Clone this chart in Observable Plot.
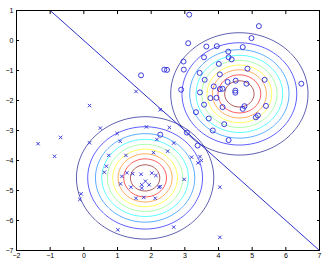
<!DOCTYPE html>
<html><head><meta charset="utf-8">
<script src="https://cdn.jsdelivr.net/npm/d3@7"></script>
<script src="https://cdn.jsdelivr.net/npm/@observablehq/plot@0.6"></script>
<style>body{margin:0;background:#fff}</style>
</head><body><div id="chart"></div>
<script>
const xTicks = [-2,-1,0,1,2,3,4,5,6,7];
const yTicks = [-7,-6,-5,-4,-3,-2,-1,0,1];

const circleX = [3.13,5.20,3.10,4.98,3.64,3.95,4.72,4.29,4.30,4.39,3.57,2.96,4.01,2.39,2.47,2.97,4.86,3.44,4.04,3.59,5.37,4.51,4.27,4.83,6.46,3.86,4.04,4.12,2.89,4.50,4.50,3.45,3.94,3.76,3.57,4.12,4.77,4.72,5.41,3.33,5.17,5.11,3.71,4.17,3.83,3.06,4.30,3.38,1.70,2.27];
const circleY = [0.86,0.48,-0.09,0.08,-0.20,-0.19,-0.22,-0.37,-0.56,-0.63,-0.56,-0.70,-0.78,-0.97,-0.98,-0.97,-0.94,-1.08,-1.13,-1.31,-1.31,-1.34,-1.38,-1.44,-1.44,-1.53,-1.62,-1.61,-1.64,-1.67,-1.74,-1.73,-1.91,-1.92,-2.14,-2.22,-2.19,-2.28,-2.18,-2.39,-2.50,-2.56,-2.60,-2.79,-3.00,-3.07,-3.32,-3.50,-1.16,-3.14];

const crossX = [0.17,1.55,2.27,0.49,1.86,0.99,2.54,-0.69,-1.36,0.17,1.08,2.17,-0.87,0.74,1.25,2.07,2.49,0.67,0.61,1.13,1.28,1.45,1.70,2.02,2.14,1.83,1.09,1.94,1.72,1.40,1.72,2.27,2.23,-0.08,-0.12,1.55,1.78,2.12,1.01,2.67,3.20,3.45,3.49,3.39,2.98,4.04,2.67,4.04];
const crossY = [-2.17,-1.70,-2.31,-2.92,-2.88,-3.10,-2.90,-3.23,-3.44,-3.41,-3.36,-3.30,-3.86,-3.83,-3.83,-3.74,-3.69,-4.19,-4.39,-4.53,-4.41,-4.44,-4.46,-4.42,-4.50,-4.69,-4.78,-4.81,-4.81,-4.89,-4.92,-4.87,-4.89,-5.11,-5.30,-5.26,-5.23,-5.26,-6.31,-3.42,-3.89,-3.87,-4.00,-4.08,-4.63,-4.89,-6.22,-6.56];

const meanCircle = [4.62, -1.78];
const meanCross = [1.82, -4.58];
const sigma = 0.95;
const levels = [0.1,0.2,0.3,0.4,0.5,0.6,0.7,0.8,0.9];
const levelColors = ["#000080","#0000ff","#0080ff","#00ffff","#80ff80","#ffff00","#ff8000","#ff0000","#800000"];

const boundaryX = [-1, 7];
const boundaryY = [1, -7];

const circles = circleX.map((x, i) => ({x, y: circleY[i]}));
const crosses = crossX.map((x, i) => ({x, y: crossY[i]}));
const boundary = boundaryX.map((x, i) => ({x, y: boundaryY[i]}));
const gauss = (m) => (x, y) => Math.exp(-((x - m[0]) ** 2 + (y - m[1]) ** 2) / (2 * sigma * sigma));

const ink = "#2a2ad8";
const chart = Plot.plot({
  width: 333, height: 264,
  marginLeft: 16, marginRight: 14, marginTop: 10, marginBottom: 14,
  style: {fontFamily: "Liberation Sans, Arial, sans-serif", fontSize: "7px", background: "#fff", color: "#000"},
  x: {domain: [-2, 7]},
  y: {domain: [-7, 1]},
  color: {type: "ordinal", domain: levels, range: levelColors},
  marks: [
    Plot.contour({value: gauss(meanCircle), x1: -2, x2: 7, y1: -7, y2: 1, pixelSize: 1, thresholds: levels, stroke: "value", fill: "none", strokeWidth: 0.9, strokeOpacity: 0.7, clip: true}),
    Plot.contour({value: gauss(meanCross), x1: -2, x2: 7, y1: -7, y2: 1, pixelSize: 1, thresholds: levels, stroke: "value", fill: "none", strokeWidth: 0.9, strokeOpacity: 0.7, clip: true}),
    Plot.line(boundary, {x: "x", y: "y", stroke: "#3030c8", strokeWidth: 1, clip: true}),
    Plot.dot(circles, {x: "x", y: "y", r: 2.5, stroke: ink, strokeWidth: 0.9, fill: "none"}),
    Plot.dot(crosses, {x: "x", y: "y", symbol: "times", r: 1.7, stroke: ink, strokeWidth: 0.9}),
    Plot.frame({stroke: "#000", strokeWidth: 1}),
    Plot.axisX(xTicks, {anchor: "bottom", tickSize: -3, fill: "none", label: null}),
    Plot.axisX(xTicks, {anchor: "top", tickSize: -3, fill: "none", label: null}),
    Plot.axisY(yTicks, {anchor: "left", tickSize: -3, fill: "none", label: null}),
    Plot.axisY(yTicks, {anchor: "right", tickSize: -3, fill: "none", label: null}),
    Plot.axisX(xTicks, {anchor: "bottom", tickSize: 0, tickPadding: 3, label: null}),
    Plot.axisY(yTicks, {anchor: "left", tickSize: 0, tickPadding: 3, label: null})
  ]
});
document.getElementById("chart").append(chart);
</script>
</body></html>
